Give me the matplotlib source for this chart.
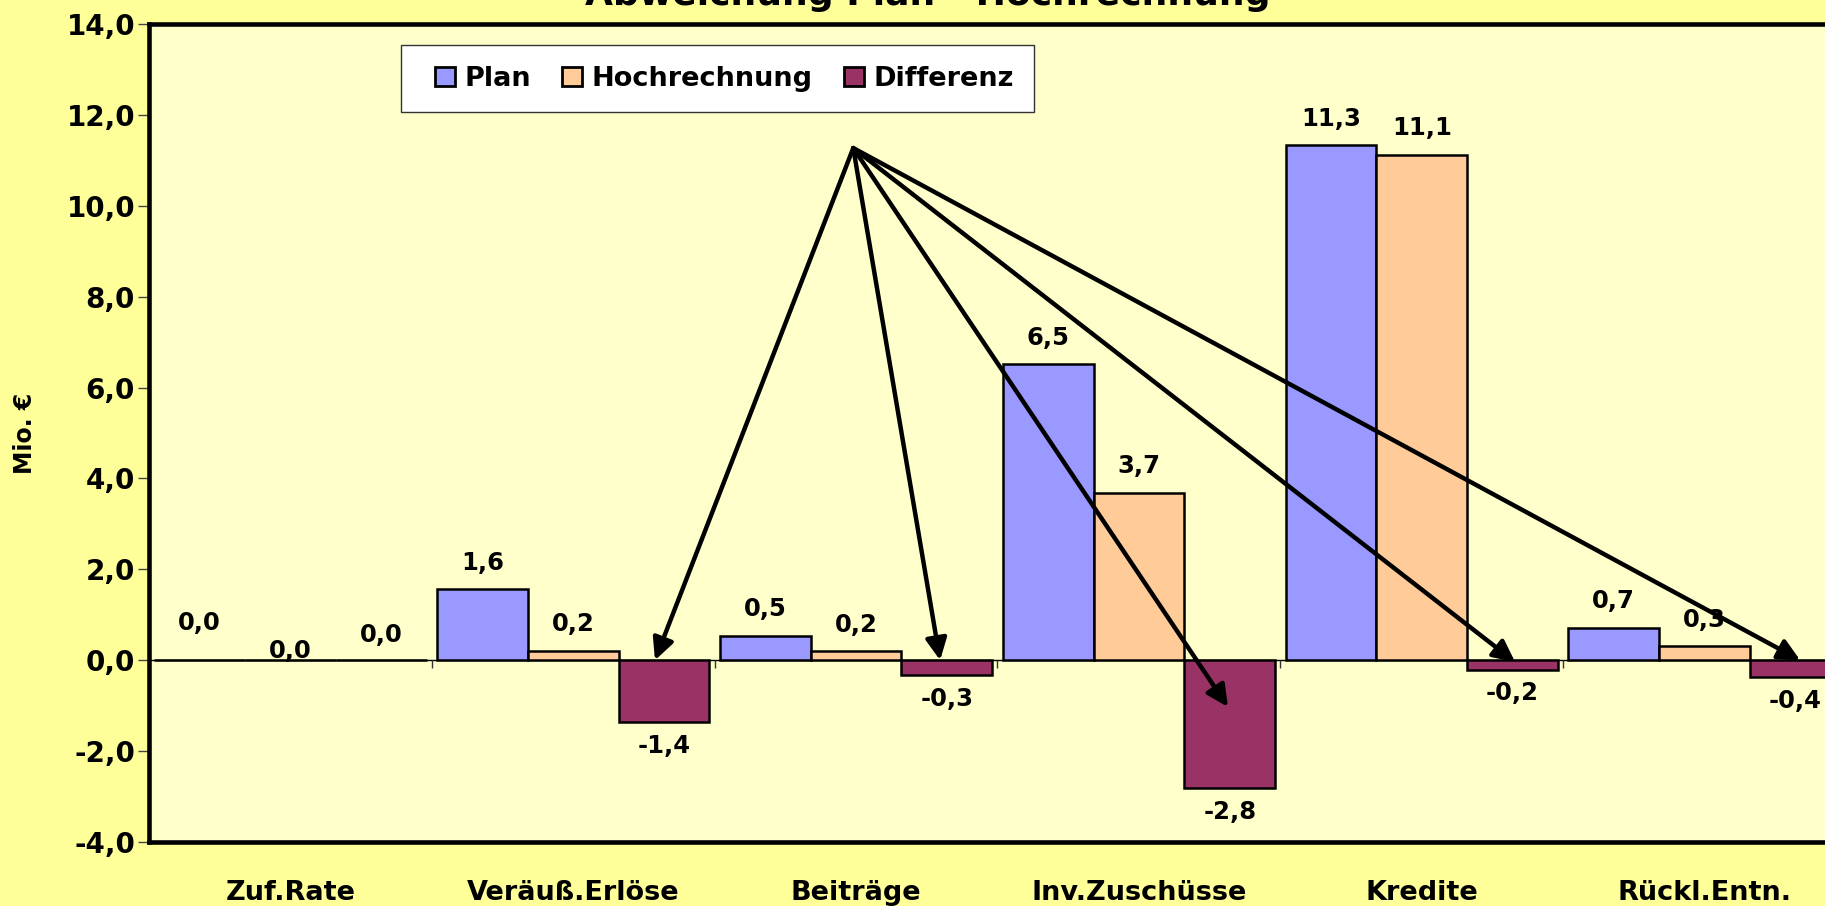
import matplotlib
matplotlib.use("Agg")
import matplotlib.pyplot as plt
from matplotlib.patches import Rectangle
import numpy as np

# chart data (Mio. EUR)
categories = ['Zuf.Rate', 'Veräuß.Erlöse', 'Beiträge', 'Inv.Zuschüsse', 'Kredite', 'Rückl.Entn.']
plan = [0.0, 1.56, 0.54, 6.51, 11.33, 0.72]
hochrechnung = [0.0, 0.21, 0.2, 3.69, 11.12, 0.31]
differenz = [0.0, -1.36, -0.33, -2.82, -0.21, -0.38]
series_names = ['Plan', 'Hochrechnung', 'Differenz']
yticks = [-4, -2, 0, 2, 4, 6, 8, 10, 12, 14]

# arrows: common start point, tips on the Differenz bars of these groups
arrow_from = (1.99, 11.27)
arrow_groups = [1, 2, 3, 4, 5]
arrow_dx = [-0.032, -0.024, -0.006, 0.009, 0.017]
arrow_depth = [0.0, 0.0, 1.03, 0.04, 0.0]

colors = ['#9999FF', '#FFCC99', '#993366']
zero_pad = [27, 7, 18]   # label offset (pt) for zero-valued bars

plt.rcParams['font.family'] = 'DejaVu Sans'
plt.rcParams['font.weight'] = 'bold'

fig = plt.figure(figsize=(18.25, 9.06), dpi=100, facecolor='#FFFF99')
ax = fig.add_axes([149 / 1825, 1 - 842 / 906, 1697 / 1825, 818 / 906])
ax.set_facecolor('#FFFFCC')

x = np.arange(len(categories))
w = 0.321
handles = []
for k, (vals, col) in enumerate(zip([plan, hochrechnung, differenz], colors)):
    xs = x + (k - 1) * w
    b = ax.bar(xs, vals, width=w, color=col, edgecolor='black', linewidth=1.8,
               zorder=3, label=series_names[k])
    handles.append(b)
    for j, (xi, v) in enumerate(zip(xs, vals)):
        if v > 0:
            off = 19
        elif v < 0:
            off = -17
        else:
            off = zero_pad[k]
        ax.annotate(f"{v:.1f}".replace('.', ','), (xi, v), xytext=(0, off),
                    textcoords='offset points', ha='center', va='center',
                    fontsize=17.5, fontweight='bold', zorder=5)

ax.axhline(0, color='black', lw=1, zorder=2)
ax.vlines(x[:-1] + 0.5, -0.17, 0, color='#333333', lw=1, zorder=2)

# arrows
for g, dx, d in zip(arrow_groups, arrow_dx, arrow_depth):
    tip = (x[g] + w + dx, -d)
    ax.annotate('', xy=tip, xytext=arrow_from,
                arrowprops=dict(arrowstyle='-|>,head_length=0.65,head_width=0.32',
                                color='black', lw=3.2, mutation_scale=20,
                                shrinkA=0, shrinkB=0), zorder=6)

ax.set_xlim(-0.5, len(categories) - 0.5)
ax.set_ylim(-4, 14)
ax.set_yticks(yticks)
ax.set_yticklabels([f"{t:.1f}".replace('.', ',') for t in yticks],
                   fontsize=20, fontweight='bold')
ax.tick_params(axis='y', direction='out', length=8, width=1, color='#444444', pad=2)
ax.set_xticks(x)
ax.set_xticklabels(categories, fontsize=19.5, fontweight='bold')
ax.tick_params(axis='x', length=0, pad=27)

for side in ['left', 'bottom', 'top', 'right']:
    ax.spines[side].set_linewidth(3.3)
    ax.spines[side].set_color('black')

fig.text(25 / 1825, 1 - 433 / 906, 'Mio. €', rotation=90, ha='center', va='center',
         fontsize=17, fontweight='bold')
fig.text(928 / 1825, 1 - 5 / 906, 'Abweichung Plan - Hochrechnung', ha='center',
         va='baseline', fontsize=26, fontweight='bold')

# legend with a white box
fig.patches.append(Rectangle((401 / 1825, 1 - 112 / 906), 633 / 1825, 67 / 906,
                             transform=fig.transFigure, facecolor='white',
                             edgecolor='#333333', lw=1, zorder=4))
leg = fig.legend(handles=handles, loc='center left', ncol=3, frameon=False,
                 bbox_to_anchor=(421 / 1825, 1 - 79 / 906), borderpad=0,
                 fontsize=19.5, handlelength=0.75, handleheight=0.75,
                 handletextpad=0.35, columnspacing=1.15)
leg.set_zorder(7)
for t in leg.get_texts():
    t.set_fontweight('bold')
for h in leg.legend_handles:
    h.set_linewidth(2)

fig.savefig('out.png', dpi=100, facecolor=fig.get_facecolor())
